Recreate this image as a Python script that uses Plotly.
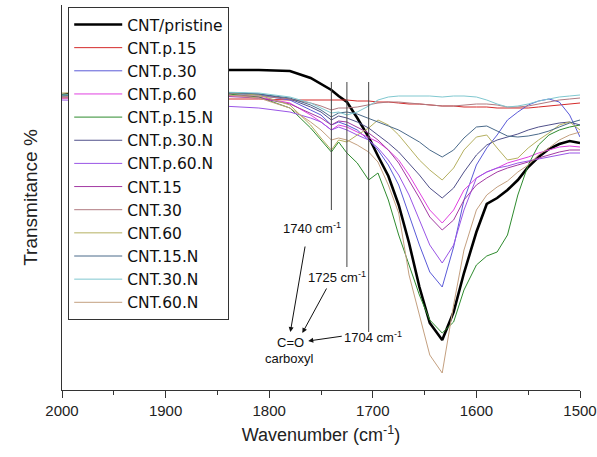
import plotly.graph_objects as go

# Wavenumber grid (cm^-1)
wn = [2000, 1950, 1900, 1850, 1810, 1780, 1760, 1750, 1740, 1733, 1725, 1715, 1704,
      1695, 1685, 1675, 1665, 1655, 1645, 1633, 1622, 1612, 1600, 1590, 1580, 1570,
      1560, 1550, 1540, 1530, 1520, 1510, 1500]

# Transmitance (arbitrary units)
cnt_pristine = [295, 302, 312, 320, 320, 319, 312, 306, 300, 294, 288, 272, 253, 234, 214, 185, 147,
                103, 67, 50, 78, 117, 158, 186, 192, 200, 210, 223, 233, 241, 246, 249, 247]
cnt_p15 = [292, 292, 292, 291, 291, 290, 290, 290, 290, 290, 290, 289, 289, 288, 288, 287, 286,
           286, 285, 284, 284, 283, 283, 283, 282, 282, 282, 282, 283, 284, 285, 286, 287]
cnt_p30 = [294, 295, 296, 297, 295, 290, 280, 275, 265, 268, 265, 260, 250, 240, 225, 205, 175,
           145, 118, 103, 143, 190, 225, 242, 255, 270, 278, 285, 289, 291, 288, 275, 253]
cnt_p60 = [292, 293, 294, 295, 293, 287, 275, 268, 260, 265, 263, 258, 252, 248, 240, 230, 215,
           198, 180, 167, 180, 200, 212, 218, 222, 227, 230, 233, 237, 240, 243, 244, 243]
cnt_p15n = [295, 297, 298, 297, 293, 282, 262, 250, 238, 248, 237, 227, 210, 217, 190, 155, 125,
            95, 70, 57, 68, 100, 125, 134, 138, 155, 195, 225, 245, 255, 260, 263, 265]
cnt_p30n = [294, 296, 297, 298, 296, 291, 283, 278, 270, 274, 272, 268, 262, 255, 247, 238, 227,
            215, 202, 192, 202, 218, 235, 245, 250, 253, 256, 260, 263, 265, 267, 268, 265]
cnt_p60n = [290, 289, 287, 284, 282, 278, 272, 268, 260, 263, 260, 255, 250, 242, 230, 215, 195,
            170, 145, 127, 145, 180, 212, 218, 222, 224, 227, 229, 231, 233, 235, 237, 237]
cnt_15 = [293, 294, 295, 294, 292, 286, 277, 272, 265, 269, 268, 263, 257, 250, 240, 227, 210,
          192, 173, 160, 170, 190, 205, 212, 218, 222, 225, 228, 232, 235, 238, 240, 240]
cnt_30 = [293, 294, 295, 295, 294, 291, 287, 284, 280, 282, 282, 283, 285, 287, 288, 288, 287,
          286, 285, 284, 284, 285, 286, 286, 285, 283, 283, 284, 286, 288, 290, 291, 292]
cnt_60 = [297, 298, 299, 298, 295, 285, 265, 252, 240, 250, 248, 255, 262, 270, 265, 255, 242,
          230, 220, 210, 222, 240, 253, 255, 242, 230, 232, 242, 250, 257, 265, 268, 260]
cnt_15n = [294, 296, 298, 298, 296, 292, 285, 280, 273, 277, 278, 276, 272, 268, 264, 260, 254,
           248, 240, 233, 240, 252, 263, 264, 259, 254, 253, 254, 256, 259, 263, 267, 270]
cnt_30n = [295, 297, 298, 298, 297, 293, 287, 282, 277, 278, 275, 278, 284, 290, 293, 294, 294,
           294, 294, 293, 294, 294, 293, 290, 286, 283, 284, 286, 289, 291, 293, 294, 295]
cnt_60n = [293, 295, 296, 296, 292, 282, 268, 260, 250, 252, 250, 245, 238, 228, 205, 177, 115,
           75, 35, 17, 85, 140, 180, 195, 203, 209, 218, 225, 235, 242, 250, 255, 258]

names = ["CNT/pristine", "CNT.p.15", "CNT.p.30", "CNT.p.60", "CNT.p.15.N", "CNT.p.30.N",
         "CNT.p.60.N", "CNT.15", "CNT.30", "CNT.60", "CNT.15.N", "CNT.30.N", "CNT.60.N"]
series = [cnt_pristine, cnt_p15, cnt_p30, cnt_p60, cnt_p15n, cnt_p30n, cnt_p60n,
          cnt_15, cnt_30, cnt_60, cnt_15n, cnt_30n, cnt_60n]
colors = ["#000000", "#d42a2a", "#5a5ad8", "#e040e0", "#2e8b2e", "#50508a", "#9a55e6",
          "#a33aa3", "#b07a80", "#b5b060", "#4a6a8a", "#80c8d0", "#c4a080"]

fig = go.Figure()
for nm, ys, c in zip(names, series, colors):
    fig.add_trace(go.Scatter(x=wn, y=ys, mode="lines", name=nm,
                             line=dict(color=c, width=2.6 if nm == "CNT/pristine" else 1)))

# marker lines for carbonyl bands
peaks = [1740, 1725, 1704]
line_bottoms = [180, 123, 58]
for p, b in zip(peaks, line_bottoms):
    fig.add_shape(type="line", x0=p, x1=p, y0=b, y1=308, xref="x", yref="y",
                  line=dict(color="#444444", width=1))

afont = dict(family="Liberation Sans, Arial, sans-serif", size=13, color="#111111")
fig.add_annotation(x=1758.4, y=162, text="1740 cm<sup>-1</sup>", showarrow=False, font=afont)
fig.add_annotation(x=1734.3, y=113, text="1725 cm<sup>-1</sup>", showarrow=False, font=afont)
fig.add_annotation(x=1699.5, y=53, text="1704 cm<sup>-1</sup>", showarrow=False, font=afont)
fig.add_annotation(x=1779.6, y=48, text="C=O", showarrow=False, font=afont)
fig.add_annotation(x=1780.5, y=32, text="carboxyl", showarrow=False, font=afont)
for hx, hy, ax, ay in [(1779.6, 58, 15, -87), (1768, 57, 25, -46), (1762.3, 49, 35, -5)]:
    fig.add_annotation(x=hx, y=hy, ax=ax, ay=ay, text="", showarrow=True, arrowhead=2,
                       arrowsize=1, arrowwidth=1, arrowcolor="#111111", standoff=0)

fig.update_layout(
    width=597, height=457,
    margin=dict(l=62, r=17, t=5, b=67),
    paper_bgcolor="white", plot_bgcolor="white",
    font=dict(family="Liberation Sans, Arial, sans-serif", color="#222222"),
    legend=dict(x=0.012, y=0.995, xanchor="left", yanchor="top",
                bordercolor="#333333", borderwidth=1, bgcolor="white",
                font=dict(family="DejaVu Sans, sans-serif", size=15.5, color="#111111"),
                tracegroupgap=0, itemwidth=48),
    xaxis=dict(range=[2000, 1500], tickvals=[2000, 1900, 1800, 1700, 1600, 1500],
               ticks="outside", ticklen=7, tickwidth=1.2, tickcolor="#333333",
               showline=True, linecolor="#333333", linewidth=1.2, showgrid=False,
               zeroline=False, tickfont=dict(size=15), automargin=False,
               minor=dict(tickvals=[1950, 1850, 1750, 1650, 1550], ticks="outside",
                          ticklen=4, tickcolor="#333333"),
               title=dict(text="Wavenumber (cm<sup>-1</sup>)", font=dict(size=18), standoff=10)),
    yaxis=dict(range=[0, 385], showticklabels=False, ticks="", showline=True,
               linecolor="#333333", linewidth=1.2, showgrid=False, zeroline=False,
               automargin=False,
               title=dict(text="Transmitance %", font=dict(size=19), standoff=18)),
)

fig.write_html("out.html")
